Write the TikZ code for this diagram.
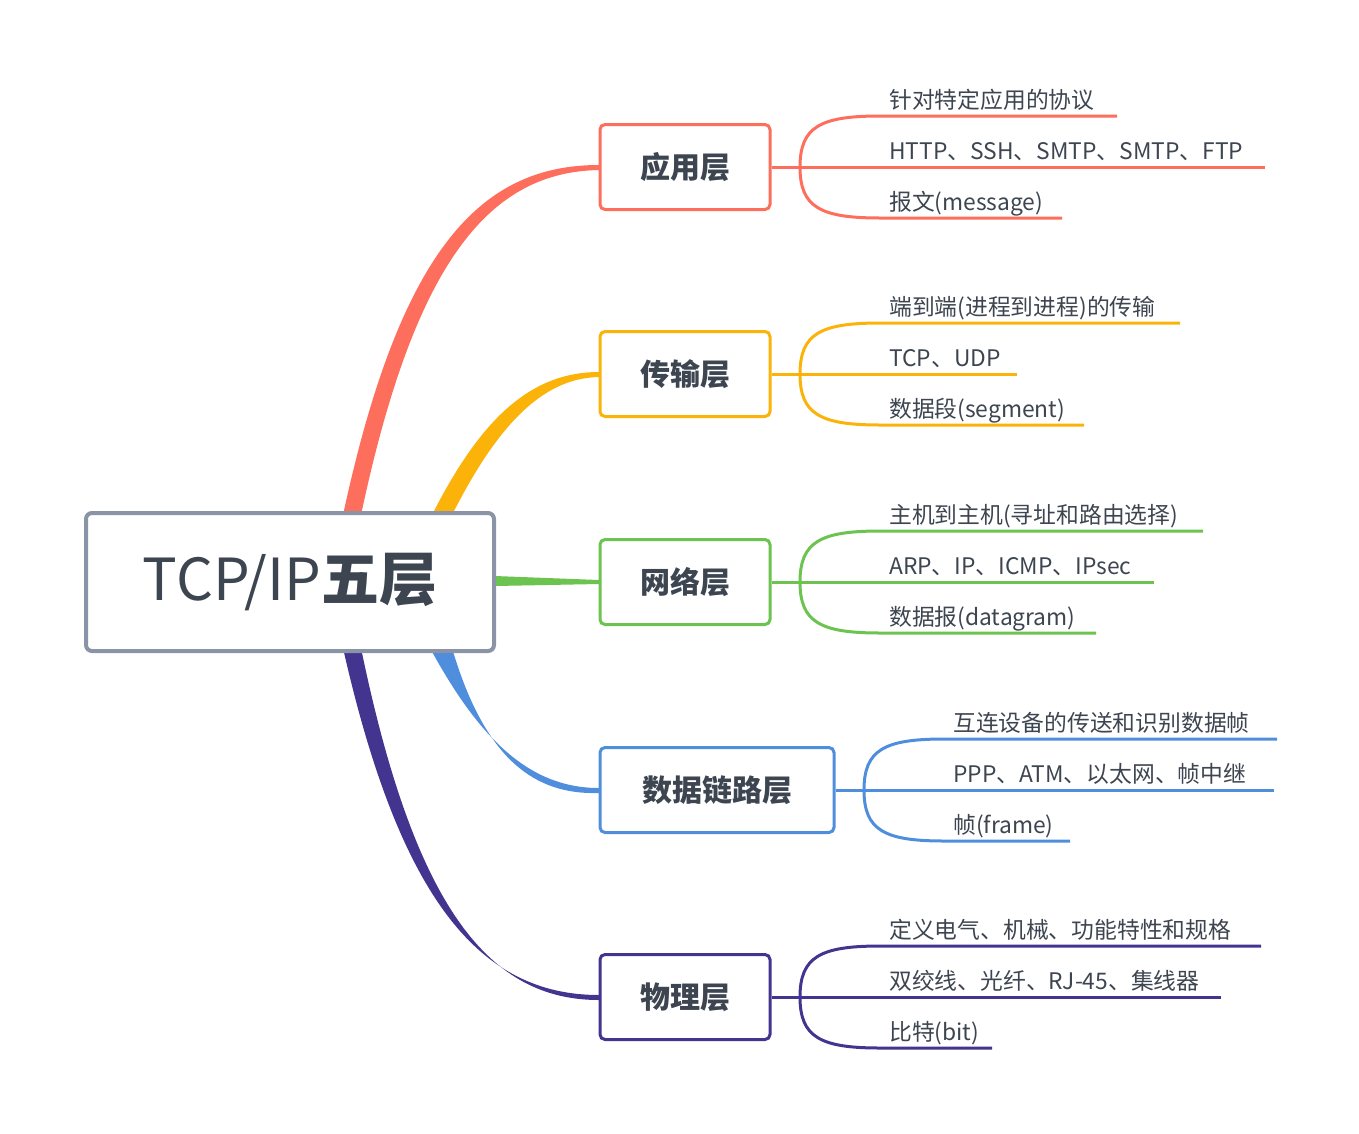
\documentclass[tikz,border=0pt]{standalone}
\usepackage{fontspec}
\setmainfont{Noto Sans CJK SC}
\definecolor{cr}{HTML}{FD6E5C}
\definecolor{co}{HTML}{FBB30A}
\definecolor{cg}{HTML}{6CC34F}
\definecolor{cb}{HTML}{4F8DDD}
\definecolor{cp}{HTML}{43358F}
\definecolor{tx}{HTML}{3D4550}
\definecolor{gb}{HTML}{8A94A6}
\begin{document}
\begin{tikzpicture}[x=1pt,y=-1pt,
  l1/.style={draw=#1,line width=3,rounded corners=5,fill=white,text=tx,font=\bfseries\fontsize{30}{30}\selectfont,inner sep=0},
  leaf/.style={anchor=base west,text=tx,font=\fontsize{22.8}{23}\selectfont,inner sep=0}]
\useasboundingbox (0,0) rectangle (1359,1133);
% main branches (tapered)
\fill[cr] (343,515) .. controls (400,250) and (480,165) .. (599,165) -- (599,170) .. controls (490,172) and (415,260) .. (361,515) -- cycle;
\fill[co] (432,515) .. controls (480,420) and (530,372) .. (599,372) -- (599,377) .. controls (540,378) and (495,430) .. (452,515) -- cycle;
\fill[cg] (495,576) -- (599,580) -- (599,584) -- (495,586) -- cycle;
\fill[cb] (430,648) .. controls (480,740) and (530,788) .. (599,788) -- (599,793) .. controls (535,795) and (485,760) .. (452,648) -- cycle;
\fill[cp] (343,648) .. controls (400,900) and (480,995) .. (599,995) -- (599,1000) .. controls (490,1000) and (415,910) .. (361,648) -- cycle;
% root
\node[draw=gb,line width=4,rounded corners=6,fill=white,minimum width=408,minimum height=138,text=tx,font=\fontsize{58}{58}\selectfont] (root) at (290,582) {TCP/IP\textbf{五层}};
% level 1
\node[l1=cr,minimum width=170,minimum height=85] (a) at (685,167) {应用层};
\node[l1=co,minimum width=170,minimum height=85] (b) at (685,374) {传输层};
\node[l1=cg,minimum width=170,minimum height=85] (c) at (685,582) {网络层};
\node[l1=cb,minimum width=234,minimum height=85] (d) at (717,790) {数据链路层};
\node[l1=cp,minimum width=170,minimum height=85] (e) at (685,997) {物理层};
% leaves
\foreach \n/\c/\y/\xs/\xt/\ea/\eb/\ec/\ta/\tb/\tc in {
 a/cr/167/800/889/1117/1265/1062/针对特定应用的协议/{HTTP、SSH、SMTP、SMTP、FTP}/报文(message),
 b/co/374/800/889/1180/1017/1084/端到端(进程到进程)的传输/TCP、UDP/数据段(segment),
 c/cg/582/800/889/1203/1154/1096/主机到主机(寻址和路由选择)/{ARP、IP、ICMP、IPsec}/数据报(datagram),
 d/cb/790/864/953/1277/1274/1070/互连设备的传送和识别数据帧/{PPP、ATM、以太网、帧中继}/帧(frame),
 e/cp/997/800/889/1261/1221/992/{定义电气、机械、功能特性和规格}/{双绞线、光纤、RJ-45、集线器}/比特(bit)}{
 \coordinate (\n s) at (\xs,\y);
 \draw[\c,line width=3] (\n.east) -- (\n s);
 \draw[\c,line width=3] (\n s) .. controls (\xs,\y-40) and (\xs+20,\y-51) .. (\xs+80,\y-51) -- (\ea,\y-51);
 \draw[\c,line width=3] (\n s) -- (\eb,\y);
 \draw[\c,line width=3] (\n s) .. controls (\xs,\y+40) and (\xs+20,\y+51) .. (\xs+80,\y+51) -- (\ec,\y+51);
 \node[leaf] at (\xt,\y-59) {\ta};
 \node[leaf] at (\xt,\y-8) {\tb};
 \node[leaf] at (\xt,\y+43) {\tc};
}
\end{tikzpicture}
\end{document}
